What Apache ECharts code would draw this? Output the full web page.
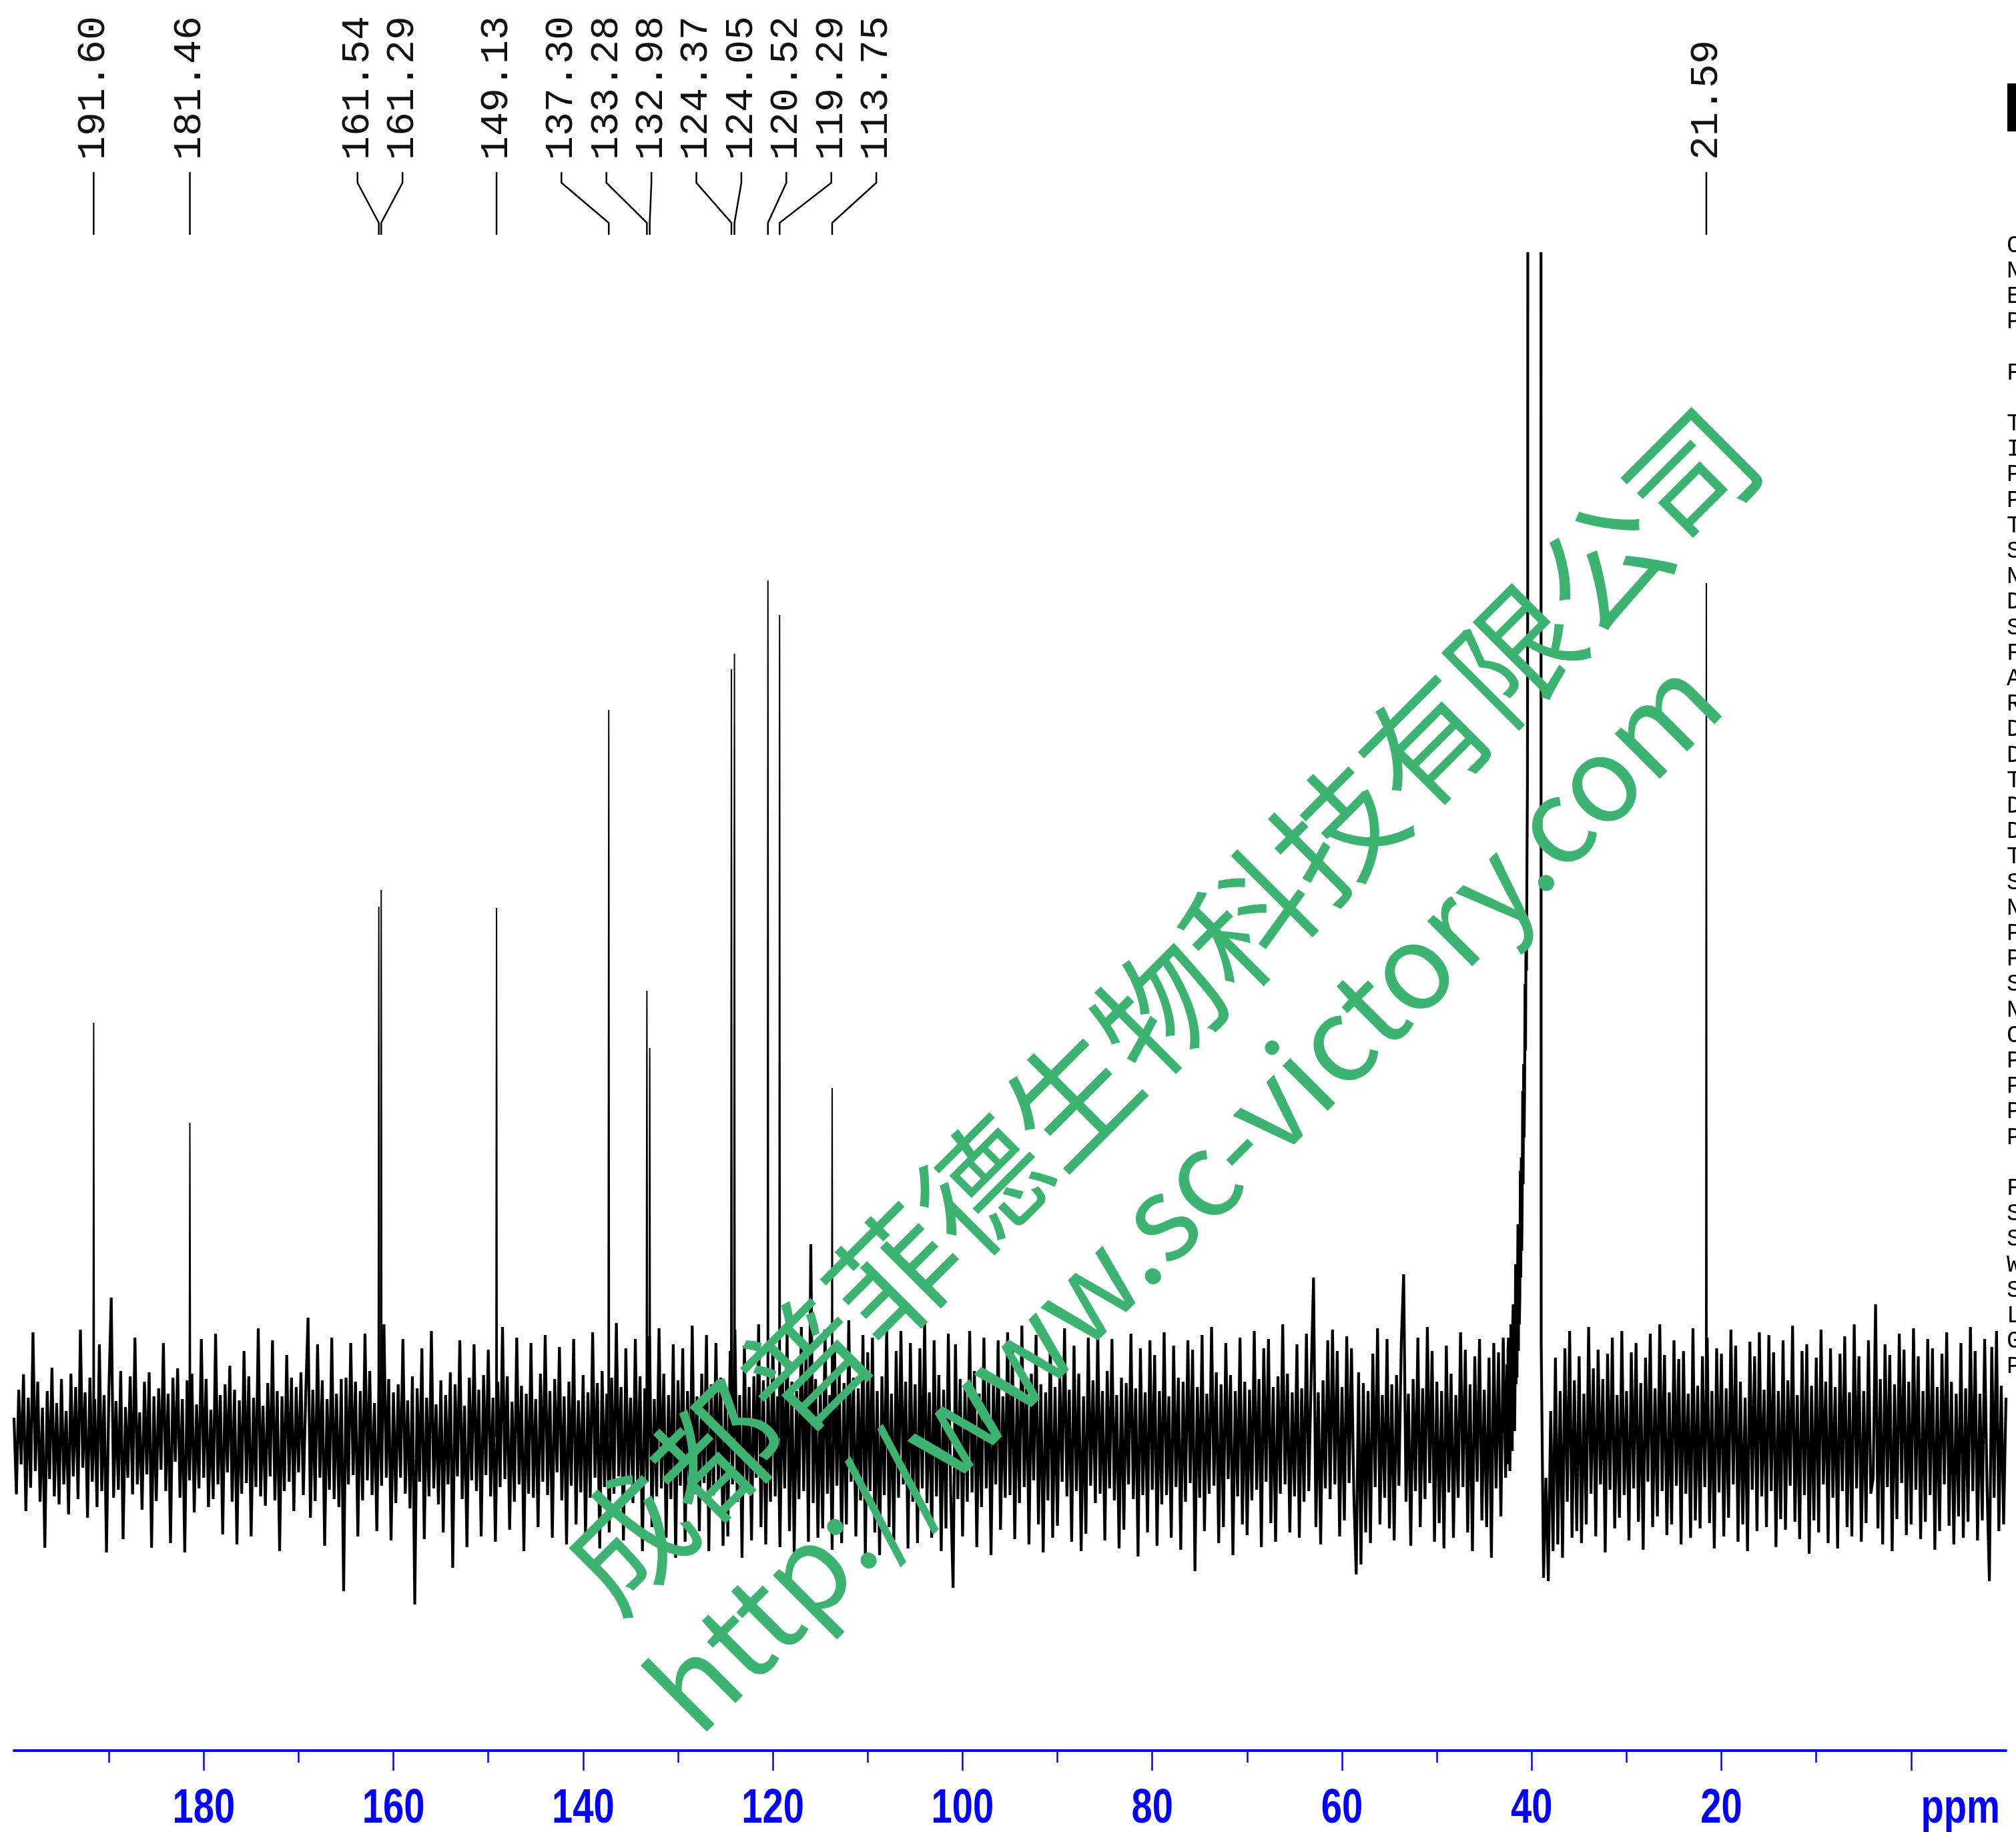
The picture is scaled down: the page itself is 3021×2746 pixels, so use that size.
<!DOCTYPE html>
<html><head><meta charset="utf-8">
<script src="https://cdn.jsdelivr.net/npm/echarts@6/dist/echarts.min.js"></script>
<style>html,body{margin:0;padding:0;background:#fff}#c{width:3021px;height:2746px}</style>
</head><body><div id="c"></div>
<script>
// ---- data ----
const peakPpm = [191.60, 181.46, 161.54, 161.29, 149.13, 137.30, 133.28, 132.98, 124.37, 124.05, 120.52, 119.29, 113.75, 21.59];
const peakHeight = [622, 472, 796, 821, 794, 1091, 670, 584, 1152, 1175, 1285, 1233, 524, 1281];
const peakLabels = ['191.60', '181.46', '161.54', '161.29', '149.13', '137.30', '133.28', '132.98', '124.37', '124.05', '120.52', '119.29', '113.75', '21.59'];
const solventPpm = [40.38, 40.15, 39.94, 39.73, 39.52, 39.31, 39.05];
const solventHeight = [4000, 4000, 4000, 4000, 4000, 4000, 4000];
// rising shoulder on the low-field side of the solvent signal
const humpPpm = [42.65,42.60,42.55,42.45,42.40,42.35,42.30,42.20,42.15,42.10,42.05,41.95,41.90,41.85,41.80,41.70,41.65,41.60,41.55,41.45,41.40,41.35,41.30,41.20,41.15,41.10,41.05,40.95,40.90,40.85,40.80,40.70,40.65,40.60,40.55,40.45,40.42];
const humpValue = [-60,110,-40,150,-30,120,-50,170,0,150,-20,200,30,190,10,260,80,250,90,320,130,300,170,400,240,420,280,520,380,560,450,680,580,760,700,980,1300];
const noiseStart = 200, noiseStep = 0.25;
const noiseRows = [
[30,-85,72,-40,95,-110,60,-75,158,-50,84,-96,45,-165,70,-62,105,-88,52,-100],
[88,-70,40,-115,96,-58,76,-92,162,-45,68,-120,90,-66,58,-104,140,-80,64,-172],
[70,210,-90,55,-78,100,-152,46,-60,92,-85,150,-70,38,-108,84,-55,98,-165,62],
[-95,74,-48,142,-80,66,-158,90,-36,104,-90,58,-172,86,-64,96,-112,50,-76,148],
[-60,88,-104,42,-92,156,-70,64,-145,80,-52,108,-96,72,-160,56,-84,130,-68,92],
[-148,60,-74,164,-88,48,-102,82,-58,146,-94,70,-170,62,-80,124,-66,90,-110,76],
[-52,98,-86,64,180,-120,72,-95,140,-60,86,-162,58,-78,150,-92,66,-104,88,-230],
[90,-70,142,-56,84,-148,70,-94,156,-64,100,-86,52,-140,96,-72,170,-60,88,-154],
[68,-98,80,-60,148,-84,56,-106,92,-250,74,-66,134,-152,60,-88,160,-76,50,-100],
[86,-142,64,-70,98,-195,80,-58,146,-92,48,-164,90,-64,140,-80,72,-148,94,-56],
[132,-88,60,-156,84,-74,166,-62,92,-138,54,-96,150,-70,78,-170,66,-84,142,-90],
[58,-134,96,-66,154,-86,70,-150,88,-52,136,-94,62,-160,84,-72,148,-130,56,-82],
[94,-146,68,-90,158,-60,82,-166,100,-74,66,-142,90,-84,172,-58,76,-154,134,-70],
[60,-98,148,-80,92,-170,74,-66,152,-134,58,-88,164,-76,96,-150,64,-92,140,-180],
[86,-72,134,-156,70,-94,168,-84,62,-140,96,-68,154,-170,80,-86,142,-74,90,-162],
[74,-148,130,-70,162,-96,64,-180,138,-82,76,-154,92,-60,170,-134,86,-160,70,-96],
[148,-88,62,-164,96,-76,156,-140,84,-172,70,-92,166,-80,134,-156,290,-98,88,-150],
[76,-136,162,-84,64,-168,140,-72,96,-158,82,-130,176,-66,90,-148,74,-94,154,-180],
[128,-80,150,-142,70,-176,92,-86,168,-134,66,-154,130,-90,160,-70,84,-166,142,-96],
[80,-158,134,-76,174,-98,68,-150,146,-88,94,-170,72,-136,156,-84,-225,140,-92,88],
[-148,74,-96,160,-82,100,-164,66,-104,150,-76,92,-176,84,-70,146,-138,62,-90,158],
[-86,134,-152,70,-98,168,-74,88,-160,96,-64,154,-130,80,-172,68,-94,142,-150,76],
[-132,92,-66,164,-88,72,-156,138,-80,96,-170,62,-144,150,-72,86,-98,160,-84,70],
[-154,100,-76,148,-94,64,-166,90,-138,82,-70,156,-92,74,-178,134,-86,68,-142,146],
[-78,124,-162,70,-100,158,-86,62,-150,138,-74,90,-168,84,-96,146,-68,132,-200,76],
[-90,154,-140,66,-84,166,-72,98,-158,80,-134,142,-62,94,-176,70,-88,150,-130,84],
[-146,72,-94,160,-78,88,-164,134,-66,148,-128,76,-156,92,-84,170,-70,96,-142,68],
[-88,140,-150,74,-96,156,-80,92,240,-134,68,-160,86,-76,146,-92,162,-70,130,-148],
[76,-124,152,-68,134,-86,-205,98,-190,82,-142,70,-158,126,-74,164,-130,64,-90,148],
[-136,80,-154,94,-72,142,245,-96,66,-162,88,-80,150,-134,74,-92,166,-68,130,-156],
[84,-128,70,-166,138,-82,96,-150,64,-90,158,-74,132,-142,80,-170,122,-66,148,-124],
[72,-134,120,-180,142,-76,128,-118,150,-60,130,20,170,90,230,210,360,520,860,2600],
[2600,2600,2600,2600,140,-210,-60,-215,40,-170,120,-160,70,-180,134,-96,160,-150,86,-140],
[122,-158,66,-130,166,-84,104,-148,132,-70,88,-172,126,-78,150,-136,64,-120,160,-86],
[70,-154,128,-76,142,-126,82,-168,120,-66,156,-134,74,-118,170,-80,124,-146,68,-130],
[146,-72,118,-160,130,-84,66,-150,164,-124,78,-136,122,-74,150,-128,70,-166,134,-82],
[126,-148,74,-120,162,-70,138,-156,84,-130,60,-170,144,-78,122,-140,158,-88,72,-134],
[154,-80,128,-164,70,-122,146,-138,86,-72,168,-126,64,-152,130,-86,140,-174,78,-124],
[120,-142,162,-70,84,-158,134,-90,76,-166,126,-80,152,-134,68,-148,170,-76,122,-156],
[70,-128,146,-84,-60,200,-136,88,-160,140,-74,124,-170,80,-122,156,-68,132,-146,84],
[-130,164,-78,122,-152,70,-126,148,-86,134,-168,76,-140,126,-70,158,-132,84,-160,66],
[-118,142,-150,74,-126,166,-80,130,-154,66,-124,148,-72,-215,136,-90,160,-140,78,-130],
[60]
];
const majorTicks = [0, 20, 40, 60, 80, 100, 120, 140, 160, 180];
const minorTicks = [10, 30, 50, 70, 90, 110, 130, 150, 170, 190];
const tickLabels = [20, 40, 60, 80, 100, 120, 140, 160, 180];
const axisUnit = 'ppm';
const watermarkCN = '成都普菲德生物科技有限公司';
const watermarkURL = 'http://www.sc-victory.com';
const paramLines = ['Current Data Parameters','NAME','EXPNO','PROCNO','','F2 - Acquisition Parameters','','Time','INSTRUM','PROBHD','PULPROG','TD','SOLVENT','NS','DS','SWH','FIDRES','AQ','RG','DW','DE','TE','D1','D11','TD0','SFO1','NUC1','P1','PLW1','SFO2','NUC2','CPDPRG[2','PCPD2','PLW2','PLW12','PLW13','','F2 - Processing parameters','SI','SF','WDW','SSB','LB','GB','PC'];

// ---- build series ----
const noise = noiseRows.flat();
const basePts = noise.map((v, i) => [noiseStart - i * noiseStep, v]);
solventPpm.forEach((p, i) => basePts.push([p, solventHeight[i]]));
humpPpm.forEach((p, i) => basePts.push([p, humpValue[i]]));
basePts.sort((a, b) => b[0] - a[0]);

const BLUE = '#0000ff';
const axisFont = '"Liberation Sans", Arial, sans-serif';
const chart = echarts.init(document.getElementById('c'), null, {renderer: 'canvas', width: 3021, height: 2746});
const LABEL_TOP = 2624 + 52;

const series = [{
  type: 'line', data: basePts, xAxisIndex: 0, symbol: 'none', clip: true, silent: true,
  lineStyle: {color: '#000000', width: 4.2, join: 'miter', miterLimit: 3}, z: 2
}];
peakPpm.forEach((p, i) => {
  series.push({
    type: 'line', xAxisIndex: 0, symbol: 'none', clip: true, silent: true, z: 3,
    data: [[p + 0.08, 0], [p, peakHeight[i]], [p - 0.08, 0]],
    lineStyle: {color: '#000000', width: 2}
  });
});

chart.setOption({
  animation: false,
  backgroundColor: '#ffffff',
  grid: {left: 21, right: 15, top: 380, bottom: 122, containLabel: false, outerBoundsMode: 'none'},
  xAxis: [{
    type: 'value', min: -10, max: 200, inverse: true, position: 'bottom',
    axisLine: {show: true, onZero: false, lineStyle: {color: BLUE, width: 4}},
    axisTick: {show: true, customValues: majorTicks, length: 30, lineStyle: {color: BLUE, width: 2.5}},
    axisLabel: {show: false},
    splitLine: {show: false}
  }, {
    type: 'value', min: -10, max: 200, inverse: true, position: 'bottom', gridIndex: 0,
    axisLine: {show: false, onZero: false},
    axisTick: {show: true, customValues: minorTicks, length: 18, lineStyle: {color: BLUE, width: 2.5}},
    axisLabel: {show: false},
    splitLine: {show: false}
  }],
  yAxis: {type: 'value', min: -469, max: 1775, show: false},
  series: series
});

// ---- peak labels with spreading ----
const xs = peakPpm.map(p => chart.convertToPixel({xAxisIndex: 0}, p));
const order = xs.map((x, i) => i).sort((a, b) => xs[a] - xs[b]);
let clusters = order.map(i => ({ids: [i], c: xs[i]}));
const gap = 67.4;
let merged = true;
while (merged) {
  merged = false;
  for (let k = 0; k < clusters.length - 1; k++) {
    const A = clusters[k], B = clusters[k + 1];
    const aEnd = A.c + (A.ids.length - 1) / 2 * gap;
    const bStart = B.c - (B.ids.length - 1) / 2 * gap;
    if (bStart - aEnd < gap - 0.01) {
      const ids = A.ids.concat(B.ids);
      const c = ids.reduce((s, i) => s + xs[i], 0) / ids.length;
      clusters.splice(k, 2, {ids, c});
      merged = true;
      break;
    }
  }
}
const labelX = [];
clusters.forEach(cl => cl.ids.forEach((id, j) => { labelX[id] = cl.c + (j - (cl.ids.length - 1) / 2) * gap; }));

const g = [];
peakPpm.forEach((p, i) => {
  g.push({type: 'text', x: labelX[i], y: 240, rotation: Math.PI / 2, z: 50,
    style: {text: peakLabels[i], font: '60px "Liberation Mono", monospace', fill: '#111', textAlign: 'left', textVerticalAlign: 'middle'}});
  g.push({type: 'polyline', z: 50,
    shape: {points: [[labelX[i], 258], [labelX[i], 274], [xs[i], 334], [xs[i], 352]]},
    style: {stroke: '#000', lineWidth: 2.5, fill: null}});
});
// x-axis tick labels (condensed bold, blue)
tickLabels.forEach(v => {
  g.push({type: 'text', x: chart.convertToPixel({xAxisIndex: 0}, v), y: LABEL_TOP, scaleX: 0.78, z: 50,
    style: {text: String(v), font: 'bold 72px ' + axisFont, fill: BLUE, textAlign: 'center', textVerticalAlign: 'top'}});
});
// unit label
g.push({type: 'text', x: chart.convertToPixel({xAxisIndex: 0}, -5.2), y: LABEL_TOP, scaleX: 0.78, z: 50,
  style: {text: axisUnit, font: 'bold 72px ' + axisFont, fill: BLUE, textAlign: 'center', textVerticalAlign: 'top'}});
// parameter column (cut off at right edge)
paramLines.forEach((t, i) => {
  if (!t) return;
  g.push({type: 'text', x: 3007, y: 368 + i * 38.2, z: 50,
    style: {text: t, font: '36px "Liberation Mono", monospace', fill: '#000', textAlign: 'left', textVerticalAlign: 'middle'}});
});
g.push({type: 'rect', z: 50, shape: {x: 3008, y: 125, width: 13, height: 72}, style: {fill: '#000'}});
// watermark
g.push({type: 'text', x: 1738, y: 1512, rotation: Math.PI / 4, z: 100,
  style: {text: watermarkCN, font: '188px "Noto Sans CJK SC"', fill: '#3CB371', textAlign: 'center', textVerticalAlign: 'middle'}});
g.push({type: 'text', x: 1772, y: 1788, rotation: Math.PI / 4, z: 100,
  style: {text: watermarkURL, font: '176px "Noto Sans CJK SC"', fill: '#3CB371', textAlign: 'center', textVerticalAlign: 'middle'}});
chart.setOption({graphic: g});
</script>
</body></html>
